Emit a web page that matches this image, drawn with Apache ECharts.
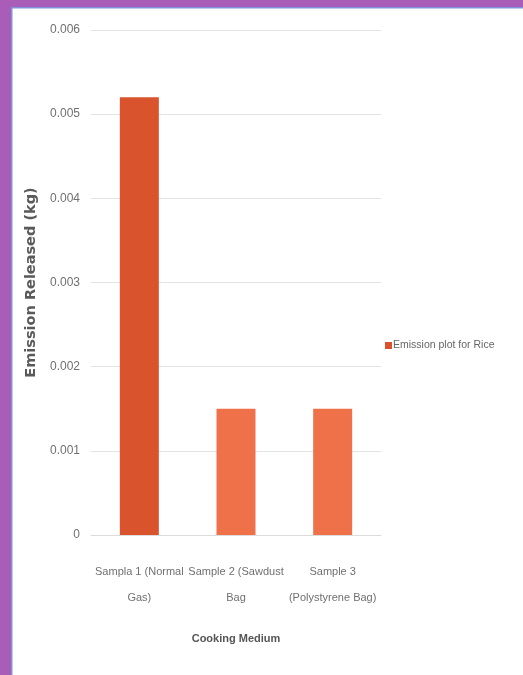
<!DOCTYPE html>
<html>
<head>
<meta charset="utf-8">
<script src="https://cdn.jsdelivr.net/npm/echarts@6/dist/echarts.min.js"></script>
<style>
html,body{margin:0;padding:0;background:#fff;}
#c{width:523px;height:675px;}
</style>
</head>
<body>
<div id="c"></div>
<script>
const categories = ['Sampla 1 (Normal\nGas)', 'Sample 2 (Sawdust\nBag', 'Sample 3\n(Polystyrene Bag)'];
const values = [0.0052, 0.0015, 0.0015];
const barColors = ['#d9542c', '#ef714a', '#ef714a'];
const seriesName = 'Emission plot for Rice';
const yTicks = { min: 0, max: 0.006, interval: 0.001 };

const narrow = "'Liberation Sans Narrow','Arial Narrow','Liberation Sans',sans-serif";
const chart = echarts.init(document.getElementById('c'), null, {renderer: 'canvas'});
chart.setOption({
  backgroundColor: '#fff',
  animation: false,
  graphic: [
    {type: 'rect', shape: {x: 0, y: 0, width: 523, height: 7}, style: {fill: '#a95cb8'}, z: 100},
    {type: 'rect', shape: {x: 0, y: 0, width: 11, height: 675}, style: {fill: '#a95cb8'}, z: 100},
    {type: 'rect', shape: {x: 11, y: 7, width: 512, height: 1.5}, style: {fill: '#7d93dc'}, z: 100},
    {type: 'rect', shape: {x: 11, y: 7, width: 1.5, height: 668}, style: {fill: '#7d93dc'}, z: 100}
  ],
  grid: {left: 91, right: 142, top: 30, bottom: 140, containLabel: false},
  legend: {
    data: [seriesName],
    left: 380, top: 335,
    icon: 'rect', itemWidth: 7, itemHeight: 7, itemGap: 4,
    textStyle: {fontFamily: narrow, fontSize: 10.5, color: '#666', padding: [0,0,0,-4]}
  },
  xAxis: {
    type: 'category',
    data: categories,
    axisLine: {lineStyle: {color: '#dcdcdc', width: 1}},
    axisTick: {show: false},
    axisLabel: {fontFamily: narrow, fontSize: 11, color: '#707070', margin: 24, lineHeight: 26, interval: 0},
    name: 'Cooking Medium',
    nameLocation: 'middle',
    nameGap: 98,
    nameTextStyle: {fontFamily: narrow, fontSize: 11, fontWeight: 'bold', color: '#555'}
  },
  yAxis: {
    type: 'value',
    min: yTicks.min, max: yTicks.max, interval: yTicks.interval,
    axisLine: {show: false},
    axisTick: {show: false},
    splitLine: {lineStyle: {color: '#e3e3e3', width: 1}},
    axisLabel: {fontFamily: narrow, fontSize: 12, color: '#707070', margin: 11,
      formatter: v => v === 0 ? '0' : v.toFixed(3)},
    name: 'Emission Released (kg)',
    nameLocation: 'middle',
    nameGap: 46,
    nameRotate: 90,
    nameTextStyle: {fontFamily: "'DejaVu Sans',sans-serif", fontSize: 14.5, fontWeight: 'bold', color: '#5a5a5a'}
  },
  series: [{
    name: seriesName,
    type: 'bar',
    barWidth: 39,
    itemStyle: {color: barColors[0]},
    data: values.map((v, i) => ({value: v, itemStyle: {color: barColors[i]}}))
  }]
});
</script>
</body>
</html>
